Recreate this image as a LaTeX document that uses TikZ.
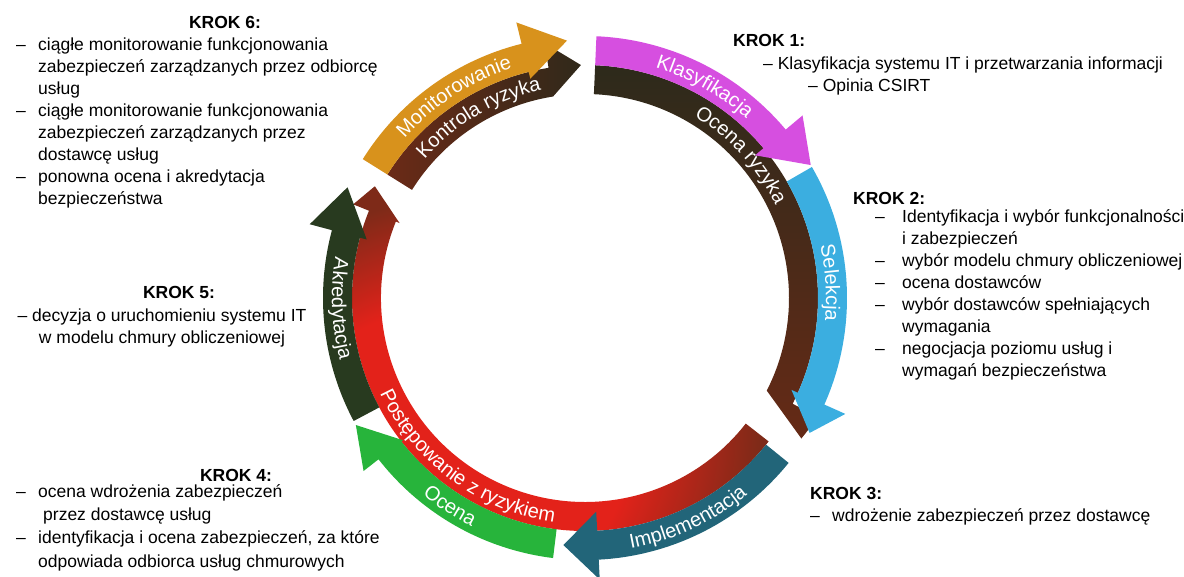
\documentclass[tikz,border=0pt]{standalone}
\usepackage{fontspec}
\setmainfont{Liberation Sans}
\usetikzlibrary{decorations.text}

\definecolor{monitor}{HTML}{D8921C}
\definecolor{kontrola}{HTML}{6B2A17}
\definecolor{kontroladark}{HTML}{30291A}
\definecolor{klasyf}{HTML}{D64FE0}
\definecolor{ocenadark}{HTML}{2D2A1B}
\definecolor{ocenabrown}{HTML}{662A16}
\definecolor{selekcja}{HTML}{3BAEE0}
\definecolor{implem}{HTML}{226579}
\definecolor{ocenagreen}{HTML}{27B43B}
\definecolor{akredyt}{HTML}{283A1F}
\definecolor{postred}{HTML}{E3221A}
\definecolor{postbrown}{HTML}{7E2A18}

\pgfdeclareradialshading{postshade}{\pgfpoint{-17bp}{-17bp}}{%
  color(0bp)=(postred); color(20bp)=(postred); color(32bp)=(postbrown); color(60bp)=(postbrown)}

\newcommand{\bandfont}{\fontsize{20}{24}\selectfont}
\newcommand{\krokitem}[1][22pt]{\makebox[#1][l]{--}}
\newcommand{\krokcont}[1][22pt]{\hspace*{#1}}

% ring arrow: [look] {r in}{r out}{tail}{head base}{tip}{tip r}{barb in}{barb out}
\newcommand{\ringarrow}[9][]{%
  \path[#1] (#4:#2) -- (#4:#3) arc[start angle=#4, end angle=#5, radius=#3]
    -- (#5:#9) -- (#6:#7) -- (#5:#8) -- (#5:#2)
    arc[start angle=#5, end angle=#4, radius=#2] -- cycle;}

\tikzset{
    krok/.style={font=\fontsize{17.5}{22}\selectfont\bfseries, inner sep=0pt},
    kroklist/.style={font=\fontsize{17.5}{22}\selectfont, align=left, inner sep=0pt},
    bandlabel/.style={decorate, decoration={text along path,
        text={|\bandfont|#1}, text align=center, text color=white}},
}

\begin{document}
\begin{tikzpicture}[x=1pt, y=1pt]
  \useasboundingbox (0,0) rectangle (1184,576);

  \begin{scope}[shift={(585,278)}]
    % inner ring
    \ringarrow[left color=kontrola, right color=kontroladark]{204}{233}{148}{99}{91}{233}{204}{258}
    \ringarrow[top color=ocenadark, bottom color=ocenabrown]{204}{233}{87.5}{-27}{-33}{258}{204}{262}
    \ringarrow[shade, shading=postshade]{204}{233}{-38}{-202}{-208}{238}{200}{250}
    % outer ring
    \ringarrow[fill=monitor]{233}{262}{148}{104}{94}{258}{226}{284}
    \ringarrow[fill=klasyf]{233}{262}{87.5}{40}{30.5}{262}{222}{284}
    \ringarrow[fill=selekcja]{233}{262}{30}{-24}{-31}{262}{226}{285}
    \ringarrow[fill=implem]{233}{262}{-39}{-87}{-95}{248}{214}{282}
    \ringarrow[fill=ocenagreen]{233}{262}{-97}{-142}{-151}{262}{231}{281}
    \ringarrow[fill=akredyt]{233}{262}{-152}{-195}{-205}{262}{226}{285}

    % labels on the ring
    \path[bandlabel=Monitorowanie] (158:241) arc[start angle=158, end angle=88, radius=241];
    \path[bandlabel=Kontrola ryzyka] (160:212) arc[start angle=160, end angle=81, radius=212];
    \path[bandlabel=Klasyfikacja] (95:241) arc[start angle=95, end angle=26, radius=241];
    \path[bandlabel=Ocena ryzyka] (80:212) arc[start angle=80, end angle=5, radius=212];
    \path[bandlabel=Selekcja] (33:241) arc[start angle=33, end angle=-26, radius=241];
    \path[bandlabel=Implementacja] (-100:255) arc[start angle=-100, end angle=-30, radius=255];
    \path[bandlabel=Ocena] (207:255) arc[start angle=207, end angle=267, radius=255];
    \path[bandlabel=Postępowanie z ryzykiem] (180:226) arc[start angle=180, end angle=287, radius=226];
    \path[bandlabel=Akredytacja] (150:253) arc[start angle=150, end angle=215, radius=253];
  \end{scope}

  % step 6
  \node[krok, anchor=base] (krok6) at (225,547) {KROK 6:};
  \node[kroklist, anchor=base west] (krok6list) at (16,371) {%
    \krokitem ciągłe monitorowanie funkcjonowania\\
    \krokcont zabezpieczeń zarządzanych przez odbiorcę\\
    \krokcont usług\\
    \krokitem ciągłe monitorowanie funkcjonowania\\
    \krokcont zabezpieczeń zarządzanych przez\\
    \krokcont dostawcę usług\\
    \krokitem ponowna ocena i akredytacja\\
    \krokcont bezpieczeństwa};

  % step 1
  \node[krok, anchor=base west] (krok1) at (733,529) {KROK 1:};
  \node[kroklist, anchor=base west] (krok1list) at (763,484) {%
    -- Klasyfikacja systemu IT i przetwarzania informacji\\
    \hspace*{45pt}-- Opinia CSIRT};

  % step 2
  \node[krok, anchor=base west] (krok2) at (853,371) {KROK 2:};
  \node[kroklist, anchor=base west] (krok2list) at (875,199) {%
    \krokitem[27pt]Identyfikacja i wybór funkcjonalności\\
    \krokcont[27pt]i zabezpieczeń\\
    \krokitem[27pt]wybór modelu chmury obliczeniowej\\
    \krokitem[27pt]ocena dostawców\\
    \krokitem[27pt]wybór dostawców spełniających\\
    \krokcont[27pt]wymagania\\
    \krokitem[27pt]negocjacja poziomu usług i\\
    \krokcont[27pt]wymagań bezpieczeństwa};

  % step 3
  \node[krok, anchor=base west] (krok3) at (810,76) {KROK 3:};
  \node[kroklist, anchor=base west] (krok3list) at (810,54) {%
    \krokitem wdrożenie zabezpieczeń przez dostawcę};

  % step 4
  \node[krok, anchor=base] (krok4) at (236,94) {KROK 4:};
  \node[kroklist, font=\fontsize{17.5}{23.3}\selectfont, anchor=base west] (krok4list) at (16,9) {%
    \krokitem ocena wdrożenia zabezpieczeń\\
    \krokcont[27pt]przez dostawcę usług\\
    \krokitem identyfikacja i ocena zabezpieczeń, za które\\
    \krokcont odpowiada odbiorca usług chmurowych};

  % step 5
  \node[krok, anchor=base] (krok5) at (179,277) {KROK 5:};
  \node[kroklist, align=center, anchor=base] (krok5list) at (162,232) {%
    -- decyzja o uruchomieniu systemu IT\\
    w modelu chmury obliczeniowej};
\end{tikzpicture}
\end{document}
